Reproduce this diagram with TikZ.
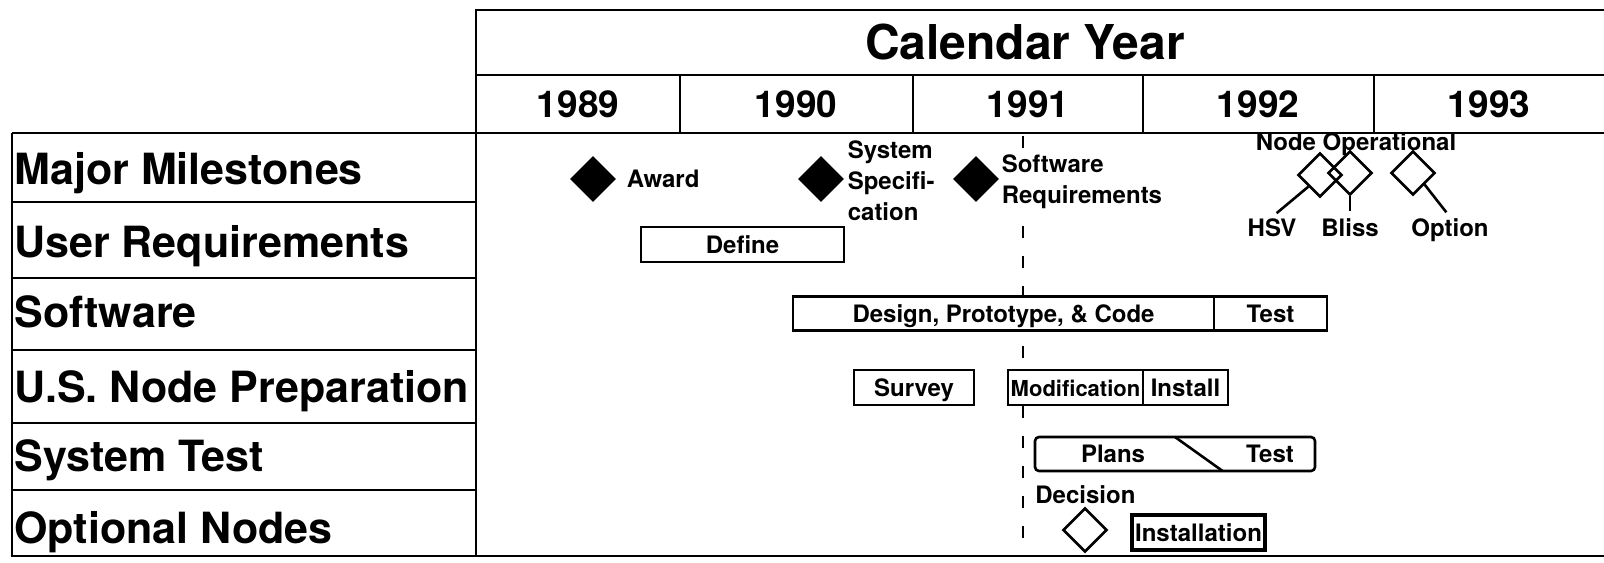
\documentclass[tikz,border=0pt]{standalone}
\usepackage{fontspec}
\setmainfont{TeX Gyre Heros}
\usetikzlibrary{shapes.geometric, positioning, calc}

\begin{document}
\begin{tikzpicture}[
  x=0.5pt, y=-0.5pt,
  grid/.style={line width=1.3pt},
  title/.style={font=\bfseries\fontsize{24}{28}\selectfont, inner sep=0pt},
  yearlabel/.style={font=\bfseries\fontsize{18.5}{22}\selectfont, inner sep=0pt},
  rowlabel/.style={anchor=west, font=\bfseries\fontsize{21.5}{25}\selectfont,
                   inner sep=0pt, text height=15.4pt, text depth=0pt},
  bar/.style={draw, line width=1.3pt, fill=white, minimum height=17pt,
              inner sep=0pt, outer sep=0pt, text height=8.6pt, text depth=0pt,
              font=\bfseries\fontsize{12}{14}\selectfont},
  note/.style={font=\bfseries\fontsize{12}{14}\selectfont, inner sep=1pt,
               text height=8.6pt, text depth=0pt},
  notes/.style={font=\bfseries\fontsize{12}{15.5}\selectfont, align=left, inner sep=1pt},
  milestone/.style={diamond, fill=black, minimum width=23pt, minimum height=23pt, inner sep=0pt},
  openmile/.style={diamond, draw, line width=1.3pt, minimum width=22pt, minimum height=22pt, inner sep=0pt},
  leader/.style={line width=1.3pt, shorten >=3pt},
  cutoff/.style={line width=1.3pt, dash pattern=on 6pt off 9pt}
]
\useasboundingbox (0,0) rectangle (1604,562);

% frame of the calendar and the row labels
\draw[grid] (1604,10) -- (476,10) -- (476,556);
\draw[grid] (476,75) -- (1604,75);
\draw[grid] (12,133) -- (1604,133);
\draw[grid] (12,133) -- (12,556) -- (1604,556);
\foreach \yy in {202,278,350,423,490}
  \draw[grid] (12,\yy) -- (476,\yy);
\foreach \xx in {680,913,1143,1374}
  \draw[grid] (\xx,75) -- (\xx,133);

\node[title] (calyear) at (1025,42) {Calendar Year};
\node[yearlabel] (y89) at (578,104) {1989};
\node[yearlabel] (y90) at (796,104) {1990};
\node[yearlabel] (y91) at (1028,104) {1991};
\node[yearlabel] (y92) at (1258,104) {1992};
\node[yearlabel] (y93) at (1489,104) {1993};

\node[rowlabel] (rmile) at (14,169) {Major Milestones};
\node[rowlabel] (ruser) at (14,242) {User Requirements};
\node[rowlabel] (rsoft) at (14,312) {Software};
\node[rowlabel] (rnode) at (14,387) {U.S. Node Preparation};
\node[rowlabel] (rtest) at (14,456) {System Test};
\node[rowlabel] (ropt)  at (14,528) {Optional Nodes};

% 1991 cut line
\draw[cutoff] (1023,136) -- (1023,556);

% milestones
\node[milestone] (award) at (593,179) {};
\node[note, right=4pt of award] (awardlbl) {Award};
\node[milestone] (sysspec) at (821,179) {};
\node[notes, right=0.5pt of sysspec, yshift=-1pt] (sysspeclbl) {System\\Specifi-\\cation};
\node[milestone] (swreq) at (976,179) {};
\node[notes, fill=white, right=0pt of swreq, yshift=-1.5pt] (swreqlbl) {Software\\Requirements};

\node[note] (nodeop) at (1356,142) {Node Operational};
\node[openmile] (hsv) at (1320,175) {};
\node[openmile] (bliss) at (1350,173) {};
\node[openmile] (option) at (1413,173) {};
\node[note] (hsvlbl) at (1272,228) {HSV};
\node[note] (blisslbl) at (1350,228) {Bliss};
\node[note] (optionlbl) at (1450,228) {Option};
\draw[leader] (hsv.south west) -- (hsvlbl.north);
\draw[leader] (bliss.south) -- (blisslbl.north);
\draw[leader] (option.south east) -- (optionlbl.north);

% activity bars
\node[bar, minimum width=101.5pt, minimum height=17.5pt] (define) at (742.5,244.5) {Define};
\node[bar, minimum width=210.5pt] (design) at (1003.5,313.5) {Design, Prototype, \& Code};
\node[bar, minimum width=56.5pt, right=0pt of design] (swtest) {Test};
\node[bar, minimum width=60pt, minimum height=17.5pt] (survey) at (914,387.5) {Survey};
\node[bar, minimum width=67.5pt, minimum height=17.5pt, font=\bfseries\fontsize{11}{13}\selectfont]
  (modif) at (1075.5,387.5) {Modification};
\node[bar, minimum width=42.5pt, minimum height=17.5pt, right=0pt of modif] (install) {Install};

\node[bar, rounded corners=2pt, minimum width=140pt] (systest) at (1175,454) {};
\draw[line width=1.3pt] ($(systest.north west)!0.5!(systest.north east)$)
  -- ($(systest.south west)!0.67!(systest.south east)$);
\node[note] (plans) at (1113,454) {Plans};
\node[note] (sttest) at (1270,454) {Test};

\node[note, anchor=west] (decision) at (1033,495) {Decision};
\node[openmile] (decmark) at (1085,530) {};
\node[bar, line width=1.7pt, minimum width=66.5pt, minimum height=17.5pt] (optinst) at (1198.5,532.5) {Installation};
\end{tikzpicture}
\end{document}
